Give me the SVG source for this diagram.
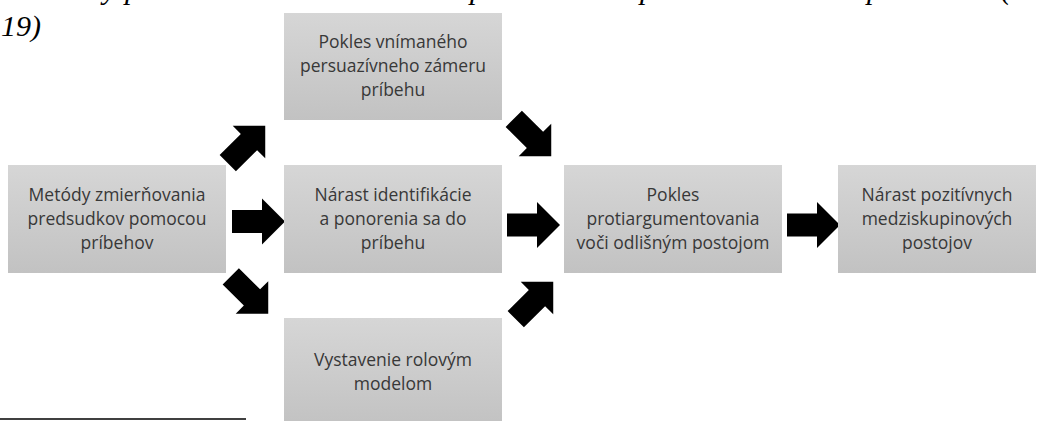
<svg xmlns="http://www.w3.org/2000/svg" width="1044" height="421" viewBox="0 0 1044 421">
<defs>
<linearGradient id="g" x1="0" y1="0" x2="0" y2="1">
<stop offset="0" stop-color="#d6d6d6"/>
<stop offset="1" stop-color="#c2c2c2"/>
</linearGradient>
<path id="arr" d="M-26.5,-11.5 L3.5,-11.5 L3.5,-23 L26.5,0 L3.5,23 L3.5,11.5 L-26.5,11.5 Z" fill="#000"/>
<style>
.box{fill:url(#g);}
.t{font-family:"Open Sans","Noto Sans",sans-serif;font-size:17.5px;fill:#383838;text-anchor:middle;}
.hd{font-family:"Liberation Serif",serif;font-style:italic;font-size:30px;fill:#000;}
</style>
</defs>
<rect width="1044" height="421" fill="#fff"/>
<g id="header">
<text class="hd" x="103" y="-1">y</text>
<text class="hd" x="125" y="-1">p</text>
<text class="hd" x="470" y="-1">p</text>
<text class="hd" x="640" y="-1">p</text>
<text class="hd" x="867" y="-1">p</text>
<text class="hd" x="1001" y="-1">(</text>
<text class="hd" x="1" y="36">19)</text>
</g>
<g id="connectors">
<use href="#arr" transform="translate(258.5,221.5)"/>
<use href="#arr" transform="translate(533.5,225)"/>
<use href="#arr" transform="translate(813.5,225)"/>
<use href="#arr" transform="translate(246.5,144.5) rotate(-45)"/>
<use href="#arr" transform="translate(249.5,295) rotate(45)"/>
<use href="#arr" transform="translate(532.5,137.5) rotate(45)"/>
<use href="#arr" transform="translate(534.5,300.5) rotate(-45)"/>
</g>
<g id="n1">
<rect class="box" x="8" y="165" width="218" height="108"/>
<text class="t" x="117" y="201">Metódy zmierňovania</text>
<text class="t" x="117" y="225">predsudkov pomocou</text>
<text class="t" x="117" y="249">príbehov</text>
</g>
<g id="n2">
<rect class="box" x="284" y="13" width="218" height="107"/>
<text class="t" x="393" y="48">Pokles vnímaného</text>
<text class="t" x="393" y="72">persuazívneho zámeru</text>
<text class="t" x="393" y="96">príbehu</text>
</g>
<g id="n3">
<rect class="box" x="284" y="165" width="218" height="108"/>
<text class="t" x="393" y="201">Nárast identifikácie</text>
<text class="t" x="393" y="225">a ponorenia sa do</text>
<text class="t" x="393" y="249">príbehu</text>
</g>
<g id="n4">
<rect class="box" x="284" y="318" width="218" height="108"/>
<text class="t" x="393" y="366">Vystavenie rolovým</text>
<text class="t" x="393" y="390">modelom</text>
</g>
<g id="n5">
<rect class="box" x="564" y="165" width="218" height="108"/>
<text class="t" x="673" y="201">Pokles</text>
<text class="t" x="673" y="225">protiargumentovania</text>
<text class="t" x="673" y="249">voči odlišným postojom</text>
</g>
<g id="n6">
<rect class="box" x="838" y="165" width="198" height="108"/>
<text class="t" x="937" y="201">Nárast pozitívnych</text>
<text class="t" x="937" y="225">medziskupinových</text>
<text class="t" x="937" y="249">postojov</text>
</g>
<line x1="0" y1="419" x2="246" y2="419" stroke="#000" stroke-width="1.3"/>
</svg>
